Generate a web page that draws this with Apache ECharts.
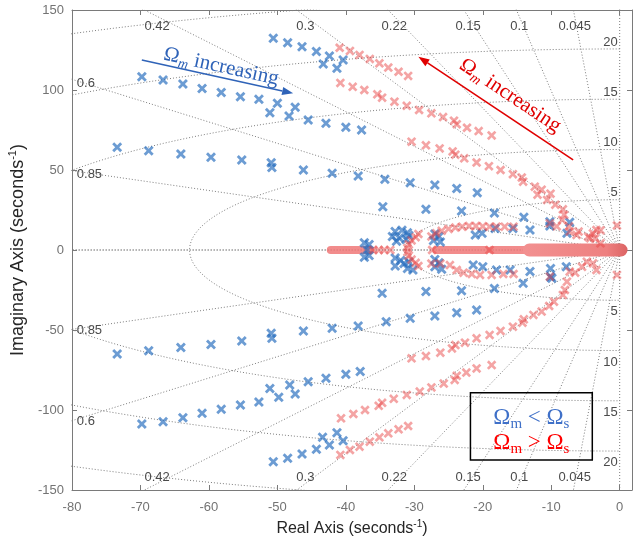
<!DOCTYPE html>
<html>
<head>
<meta charset="utf-8">
<script src="https://cdn.jsdelivr.net/npm/echarts@6/dist/echarts.min.js"></script>
<style>
  html, body { margin: 0; padding: 0; background: #fff; }
  #main { width: 644px; height: 539px; }
</style>
</head>
<body>
<div id="main"></div>
<script>
// -- grid ticks (damping ratio lines, frequency arcs) --
let zetaTicks = [0.045, 0.1, 0.15, 0.22, 0.3, 0.42, 0.6, 0.85];
let freqTicks = [5, 10, 15, 20, 25];
let freqLabels = [5, 10, 15, 20];

// -- poles, Omega_m < Omega_s --
let blueUpper = [
  [-50.6, 132.3], [-48.5, 129.6], [-46.4, 127], [-44.3, 124], [-42.4, 121.3], [-40.4, 118.8], [-43.3, 116.3], [-41.3, 113.6],
  [-69.8, 108.3], [-66.7, 106.3], [-63.8, 103.8], [-61.0, 101], [-58.2, 98.5], [-55.4, 95.8], [-52.7, 94.2], [-50.0, 91.7],
  [-51.1, 85.8], [-47.4, 89.2], [-48.3, 83.8], [-45.5, 81.3], [-42.9, 79.2], [-40.0, 76.7], [-37.7, 75],
  [-73.4, 64.2], [-68.8, 62.1], [-64.1, 60], [-59.7, 57.9], [-55.2, 56.3], [-50.9, 54.6], [-50.8, 51.5], [-46.2, 50],
  [-42.0, 47.9], [-38.2, 46.3], [-34.3, 44.2], [-30.6, 42.1], [-27.0, 40.6], [-23.8, 38.5], [-20.8, 35.8],
  [-34.6, 27.1], [-28.3, 25.4], [-23.1, 24.4], [-18.3, 23.1], [-14.0, 20.4], [-10.2, 17.7], [-7.3, 17.3],
  [-21.1, 9.4], [-20.1, 10.4], [-18.2, 13.5], [-15.6, 13.5], [-13.1, 12.5], [-10.2, 15.0], [-7.7, 10.4],
  [-32.8, 11.5], [-31.8, 12.3], [-31, 10.8], [-33.2, 8.5], [-32.2, 7.5], [-31.2, 6.5], [-32.6, 5.5], [-30.8, 9],
  [-37.3, 4.5], [-36.6, 3.5], [-36.9, 0], [-27, 10], [-26.4, 8.5], [-27.2, 6], [-26.2, 5]
];
let blueLower = [
  [-50.6, -132.3], [-48.5, -130.2], [-46.4, -127.5], [-44.3, -124.6], [-43.4, -117], [-42.4, -121.9], [-41.3, -114.2], [-40.4, -119.2],
  [-69.8, -108.8], [-66.7, -107.3], [-63.8, -104.8], [-61, -102], [-58.2, -99.6], [-55.4, -96.9], [-52.7, -95], [-51.1, -86.5],
  [-49.8, -92], [-48.2, -84.4], [-47.4, -90], [-45.5, -82.3], [-42.9, -80.2], [-40, -77.7], [-37.9, -76],
  [-73.4, -65], [-68.8, -62.9], [-64.1, -61], [-59.7, -59], [-55.2, -56.9], [-50.9, -52.1], [-50.8, -55.2], [-46.2, -50.6],
  [-42, -48.9], [-38.2, -47.5], [-34.1, -44.8], [-30.6, -42.7], [-27, -41.2], [-23.8, -39.2], [-20.9, -37.5],
  [-34.7, -27.1], [-28.3, -26], [-23.1, -25.4], [-18.3, -24], [-14.1, -20.8], [-9.9, -17.7], [-7.8, -10.4],
  [-21.4, -9.4], [-20, -10.4], [-18, -12.5], [-16, -12.5], [-13.1, -13.5], [-10.1, -11.5], [-10.1, -16.7],
  [-32.8, -5], [-32, -6.5], [-31.5, -8.5], [-32.8, -10], [-31, -11.5], [-30.2, -12.5], [-30.8, -7.5],
  [-37.3, -4.5], [-36.6, -3.5], [-27, -6], [-26.4, -8], [-27, -10.5], [-26, -12]
];

// -- poles, Omega_m > Omega_s --
let redUpper = [
  [-40.9, 126.4], [-39.4, 124.4], [-38.0, 121.9], [-36.5, 119.4], [-35.1, 116.7], [-33.8, 114], [-32.3, 111.4], [-30.9, 108.8],
  [-40.8, 104.4], [-39.0, 102], [-37.3, 100], [-35.4, 97.3], [-34.7, 95.2], [-32.9, 92.7], [-31.1, 90.1], [-29.3, 87.5],
  [-27.5, 85.4], [-25.8, 83.1], [-24.2, 80.8], [-23.8, 78.6], [-22.3, 76.4], [-20.6, 74.3], [-18.7, 71.6],
  [-30.4, 67.7], [-28.3, 65.4], [-26.3, 63.5], [-24.4, 61.6], [-24.0, 59.6], [-22.7, 57.3], [-20.9, 54.7], [-19.1, 52.4],
  [-17.4, 50], [-15.6, 47.4], [-14.3, 45.3], [-14.1, 42.7], [-12.4, 39.6], [-11.4, 37.7], [-12.0, 34.6], [-10.1, 35.2],
  [-10.6, 31.3], [-9.4, 28.3], [-8.3, 25.4], [-8.1, 22], [-8.4, 18.8], [-7.4, 14.8], [-6.0, 11.5], [-4.6, 8.3], [-3.6, 7.2],
  [-3.4, 12.5], [-2.8, 12.3], [-3.9, 10.4], [-4.3, 7.3], [-2.8, 4.2], [-0.4, 15.3], [-10.2, 16.7], [-9.2, 14.8], [-7.3, 11.5], [-6.3, 9.4],
  [-27.5, 8.5], [-26.8, 10.5], [-26, 12], [-25, 13.2], [-24, 14], [-23, 14.6], [-22, 15], [-21, 15], [-20, 14.8],
  [-19, 14.6], [-18, 14.6], [-16.8, 14.6], [-15.5, 14.6],
  [-29.4, 10], [-29.8, 8], [-30.4, 6], [-30.8, 3.5], [-31, 1.2]
];
let redLower = [
  [-40.8, -128.1], [-39.4, -125], [-38, -122.9], [-36.5, -119.8], [-35.1, -117.1], [-33.8, -114.6], [-32.3, -112.1], [-30.9, -110],
  [-40.7, -105.2], [-38.9, -102.5], [-37.2, -100], [-35.2, -97.4], [-34.7, -95.5], [-33, -93], [-31.1, -90.6], [-29.2, -88.5],
  [-27.5, -85.9], [-25.7, -83.5], [-24.1, -81.2], [-23.8, -78.6], [-22.4, -76.6], [-20.9, -74], [-18.7, -71.9],
  [-30.4, -67.7], [-28.3, -66.3], [-26.2, -64.2], [-24.5, -61.5], [-24, -59.4], [-22.6, -57.9], [-20.9, -55.2], [-19, -53.1],
  [-17.4, -50.6], [-15.6, -47.9], [-14.2, -45.4], [-14, -43.3], [-12.6, -40.6], [-11.4, -38.5], [-10.3, -35], [-9.6, -32.3],
  [-8.3, -28.1], [-8, -25], [-7.7, -19.8], [-6.5, -14.2],
  [-3.9, -8.3], [-4.8, -7.3], [-3.4, -12.5], [-0.4, -15.6], [-10.2, -16.7], [-7.3, -13.5], [-5.5, -10.5],
  [-27.5, -8.5], [-26.2, -8.5], [-24.8, -9.4], [-23.8, -12.5], [-22.8, -14.2], [-21.6, -15], [-20.4, -15.6], [-18.7, -15.6],
  [-17, -15], [-15.5, -15],
  [-29.4, -10], [-29.8, -8], [-30.4, -6], [-30.8, -3.5], [-31, -1.2]
];
// real poles drawn as single crosses
let redReal = [[-36, 0], [-35.2, 0], [-34.4, 0], [-33.5, 0], [-27.4, 0], [-19, 0]];
// real poles so dense they merge into a band: [from, to]
let redBandThin = [[-42.2, -36.4], [-26.8, -19.6], [-18.6, -13.2]];
let redBandThick = [[-13.2, 0.2]];

let X_PATH = 'path://M0,2L2,0L5,3L8,0L10,2L7,5L10,8L8,10L5,7L2,10L0,8L3,5Z';
let GRID_COLOR = '#7d7d7d';
let BLUE = 'rgba(40,110,190,0.85)';
let RED = 'rgba(232,70,70,0.62)';

function gridLine(data) {
  return {
    type: 'line', data: data, silent: true, showSymbol: false, symbol: 'none', z: 1,
    lineStyle: {color: GRID_COLOR, width: 1, type: [1, 2]}
  };
}

function buildSeries() {
  let series = [];
  // damping ratio rays, plus zeta = 0 and zeta = 1
  [0].concat(zetaTicks, [1]).forEach(function (z) {
    let r = 400;
    let wd = r * Math.sqrt(1 - z * z);
    series.push(gridLine([[0, 0], [-r * z, wd]]));
    series.push(gridLine([[0, 0], [-r * z, -wd]]));
  });
  // natural frequency arcs
  freqTicks.forEach(function (f) {
    let w = 2 * Math.PI * f;
    let pts = [];
    for (let k = 0; k <= 180; k++) {
      let th = Math.PI / 2 + Math.PI * k / 180;
      pts.push([w * Math.cos(th), w * Math.sin(th)]);
    }
    series.push(gridLine(pts));
  });
  redBandThin.forEach(function (seg) {
    series.push({
      type: 'line', data: [[seg[0], 0], [seg[1], 0]], silent: true, symbol: 'none', z: 2,
      lineStyle: {color: 'rgba(240,120,120,0.85)', width: 8, cap: 'round'}
    });
  });
  redBandThick.forEach(function (seg) {
    series.push({
      type: 'line', data: [[seg[0], 0], [seg[1], 0]], silent: true, symbol: 'none', z: 2,
      lineStyle: {
        width: 13, cap: 'round',
        color: new echarts.graphic.LinearGradient(0, 0, 1, 0, [
          {offset: 0, color: '#f29090'}, {offset: 0.8, color: '#ee8080'}, {offset: 1, color: '#dc6464'}
        ])
      }
    });
  });
  series.push({
    type: 'scatter', data: blueUpper.concat(blueLower), symbol: X_PATH, symbolSize: 10, z: 3,
    itemStyle: {color: BLUE}
  });
  series.push({
    type: 'scatter', data: redUpper.concat(redLower, redReal), symbol: X_PATH, symbolSize: 9.5, z: 4,
    itemStyle: {color: RED}
  });
  return series;
}

let axisLineStyle = {onZero: false, lineStyle: {color: '#7a7a7a', width: 1}};
let tickStyle = {inside: true, length: 5, lineStyle: {color: '#7a7a7a'}};
let nameRich = function (size) {
  return {
    n: {fontSize: size, color: '#262626', fontFamily: 'Liberation Sans', lineHeight: size + 4},
    s: {fontSize: Math.round(size * 0.62), color: '#262626', fontFamily: 'Liberation Sans', lineHeight: 10, verticalAlign: 'top'}
  };
};

let option = {
  animation: false,
  backgroundColor: '#fff',
  grid: {left: 72, right: 12, top: 10, bottom: 49, outerBoundsMode: 'none', containLabel: false},
  xAxis: [{
    type: 'value', min: -80, max: 1.8, interval: 10, position: 'bottom',
    name: '{n|Real Axis (seconds}{s|-1}{n|)}', nameLocation: 'middle', nameGap: 28,
    nameTextStyle: {rich: nameRich(16)},
    axisLine: axisLineStyle, splitLine: {show: false}, axisTick: tickStyle,
    axisLabel: {
      color: '#737373', fontSize: 13, fontFamily: 'Liberation Sans', margin: 11, showMaxLabel: false,
      formatter: function (v) { return v % 10 === 0 ? v : ''; }
    }
  }, {
    type: 'value', min: -80, max: 1.8, interval: 10, position: 'top',
    axisLine: axisLineStyle, splitLine: {show: false}, axisTick: tickStyle,
    axisLabel: {show: false}
  }],
  yAxis: [{
    type: 'value', min: -150, max: 150, interval: 50, position: 'left',
    name: '{n|Imaginary Axis (seconds}{s|-1}{n|)}', nameLocation: 'middle', nameGap: 23, nameRotate: 90,
    nameTextStyle: {rich: nameRich(18)},
    axisLine: axisLineStyle, splitLine: {show: false}, axisTick: tickStyle,
    axisLabel: {color: '#737373', fontSize: 13, fontFamily: 'Liberation Sans', margin: 8}
  }, {
    type: 'value', min: -150, max: 150, interval: 50, position: 'right',
    axisLine: axisLineStyle, splitLine: {show: false}, axisTick: tickStyle,
    axisLabel: {show: false}
  }],
  series: buildSeries()
};

let chart = echarts.init(document.getElementById('main'), null, {renderer: 'canvas'});
chart.setOption(option);

// -- annotations, placed in data coordinates --
function px(p) {
  return chart.convertToPixel({xAxisIndex: 0, yAxisIndex: 0}, p);
}

function gridText(text, p, align, dx, dy) {
  let q = px(p);
  return {
    type: 'text', x: q[0] + (dx || 0), y: q[1] + (dy || 0), z: 50, silent: true,
    style: {text: text, fill: '#4a4a4a', font: '13px "Liberation Sans"', align: align, verticalAlign: 'middle'}
  };
}

function arrow(p0, p1, color) {
  let a = px(p0), b = px(p1);
  let ang = Math.atan2(b[1] - a[1], b[0] - a[0]);
  let len = 11, half = 4;
  let bx = b[0] - len * Math.cos(ang), by = b[1] - len * Math.sin(ang);
  return [{
    type: 'line', z: 60, silent: true,
    shape: {x1: a[0], y1: a[1], x2: bx, y2: by},
    style: {stroke: color, lineWidth: 1.6}
  }, {
    type: 'polygon', z: 60, silent: true,
    shape: {points: [[b[0], b[1]],
      [bx + half * Math.sin(ang), by - half * Math.cos(ang)],
      [bx - half * Math.sin(ang), by + half * Math.cos(ang)]]},
    style: {fill: color}
  }];
}

function omegaText(p, rot, color) {
  let q = px(p);
  return {
    type: 'text', x: q[0], y: q[1], rotation: rot, z: 60, silent: true,
    style: {
      text: '{o|Ω}{m|m}{o| increasing}', align: 'center', verticalAlign: 'middle',
      rich: {
        o: {fontSize: 21, fontFamily: 'Liberation Serif', fill: color, lineHeight: 26},
        m: {fontSize: 14, fontStyle: 'italic', fontFamily: 'Liberation Serif', fill: color, lineHeight: 12, verticalAlign: 'bottom'}
      }
    }
  };
}

let graphics = [];
zetaTicks.forEach(function (z) {
  let t = Math.sqrt(1 - z * z) / z;
  if (z < 0.5) {
    let x = -146 / t;
    graphics.push(gridText(String(z), [x, 139.5], 'center'));
    graphics.push(gridText(String(z), [x, -142.3], 'center'));
  } else {
    graphics.push(gridText(String(z), [-79.3, 80 * t - 2.3], 'left'));
    graphics.push(gridText(String(z), [-79.3, -80 * t - 0.7], 'left'));
  }
});
freqLabels.forEach(function (f) {
  let w = 2 * Math.PI * f;
  graphics.push(gridText(String(f), [-0.3, w], 'right', 0, -7));
  graphics.push(gridText(String(f), [-0.3, -w], 'right', 0, 11.5));
});

graphics = graphics.concat(arrow([-69.8, 118.8], [-47.7, 97.9], '#2f63b8'));
graphics.push(omegaText([-58.2, 114.5], -0.216, '#2f63b8'));
graphics = graphics.concat(arrow([-6.8, 56.3], [-29.4, 120.8], '#e00000'));
graphics.push(omegaText([-16.0, 96.5], -0.588, '#e00000'));

// legend box
let b0 = px([-21.8, -89.2]), b1 = px([-4.0, -131.25]);
graphics.push({
  type: 'rect', z: 60, silent: true,
  shape: {x: b0[0], y: b0[1], width: b1[0] - b0[0], height: b1[1] - b0[1]},
  style: {fill: 'none', stroke: '#000', lineWidth: 1.5}
});
let legendRich = function (color) {
  return {
    o: {fontSize: 23, fontFamily: 'Liberation Serif', fill: color, lineHeight: 28},
    s: {fontSize: 15, fontFamily: 'Liberation Serif', fill: color, lineHeight: 13, verticalAlign: 'bottom'}
  };
};
let cx = (b0[0] + b1[0]) / 2;
graphics.push({
  type: 'text', x: cx, y: b0[1] + 25, z: 61, silent: true,
  style: {text: '{o|Ω}{s|m}{o| < Ω}{s|s}', align: 'center', verticalAlign: 'middle', rich: legendRich('#3f70c8')}
});
graphics.push({
  type: 'text', x: cx, y: b0[1] + 50, z: 61, silent: true,
  style: {text: '{o|Ω}{s|m}{o| > Ω}{s|s}', align: 'center', verticalAlign: 'middle', rich: legendRich('#ff0000')}
});

chart.setOption({graphic: graphics});
</script>
</body>
</html>
